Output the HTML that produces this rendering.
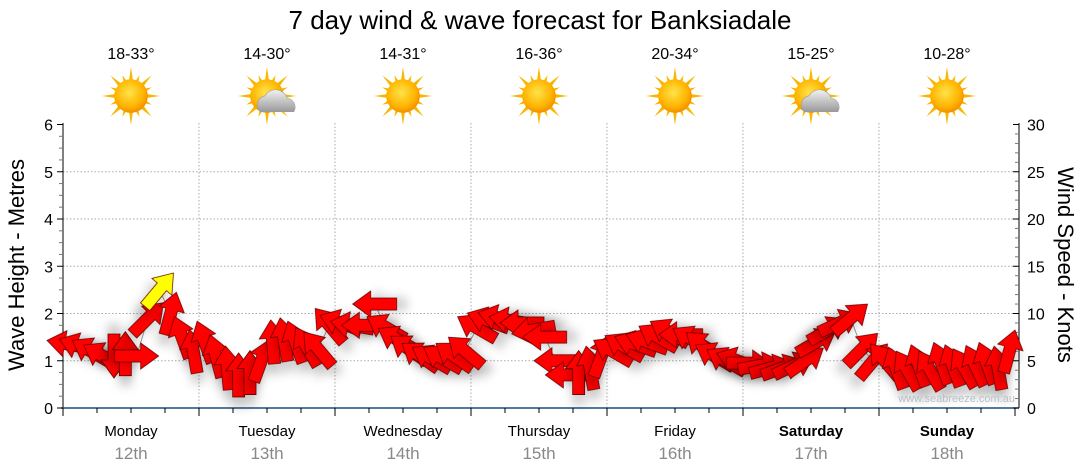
<!DOCTYPE html>
<html><head><meta charset="utf-8"><style>
html,body{margin:0;padding:0;background:#fff;}
svg{display:block;font-family:"Liberation Sans",sans-serif;}
</style></head><body>
<svg id="c" width="1080" height="475" viewBox="0 0 1080 475">
<defs>
<filter id="sh" x="-50%" y="-50%" width="200%" height="250%"><feDropShadow dx="0" dy="10" stdDeviation="5" flood-color="#000" flood-opacity="0.2"/></filter>
<radialGradient id="sun" cx="45%" cy="40%" r="60%"><stop offset="0" stop-color="#ffe34a"/><stop offset="0.7" stop-color="#ffb400"/><stop offset="1" stop-color="#f09000"/></radialGradient>
<linearGradient id="cloud" x1="0" y1="0" x2="0" y2="1"><stop offset="0" stop-color="#f2f2f2"/><stop offset="1" stop-color="#9a9a9a"/></linearGradient>
</defs>
<text x="540" y="29" text-anchor="middle" font-size="26" fill="#000">7 day wind &amp; wave forecast for Banksiadale</text>
<g id="topg"></g>
<g id="grid"></g>
<g id="axes"></g>
<g id="marks"></g>
<text x="1015" y="402" text-anchor="end" font-size="11" fill="#b8c0c8">www.seabreeze.com.au</text>
<text transform="translate(24,265) rotate(-90)" text-anchor="middle" font-size="22">Wave Height - Metres</text>
<text transform="translate(1058,265) rotate(90)" text-anchor="middle" font-size="22">Wind Speed - Knots</text>
</svg>
<script>
const days=["Monday","Tuesday","Wednesday","Thursday","Friday","Saturday","Sunday"];
const dates=["12th","13th","14th","15th","16th","17th","18th"];
const temps=["18-33°","14-30°","14-31°","16-36°","20-34°","15-25°","10-28°"];
const cloudy=[false,true,false,false,false,true,false];
const leftTicks=[0,1,2,3,4,5,6];
const rightTicks=[0,5,10,15,20,25,30];
const waveHeight=[
1.35,1.3,1.2,1.1,1.1,1.15,1.1,1.9,2.5,2.0,1.5,1.2,
1.4,1.1,0.85,0.7,0.75,1.0,1.4,1.45,1.4,1.3,1.25,1.75,
1.8,1.75,1.75,2.2,1.7,1.45,1.25,1.1,1.05,1.05,1.1,1.2,
1.7,1.85,1.9,1.85,1.8,1.65,1.5,1.0,0.7,0.75,0.85,1.1,
1.2,1.3,1.35,1.4,1.5,1.6,1.55,1.45,1.3,1.1,1.0,1.0,
0.95,0.9,0.85,0.85,0.9,1.0,1.4,1.65,1.8,1.9,1.25,1.0,
1.0,0.85,0.8,0.9,0.8,0.95,0.9,0.85,0.9,0.95,0.85,1.2];
const windDir=[
-80,-70,-60,-60,180,0,90,45,40,15,-20,-10,
-20,-15,-5,0,0,20,-5,-10,-20,-30,-40,-40,
-70,-80,-90,-90,-60,-60,-55,-55,-60,-60,-55,-50,
-60,-70,-75,-80,-90,-100,-90,-90,-90,0,-10,20,
-60,-60,-70,-70,-60,-60,-90,-60,-50,-60,-60,-70,
90,80,75,70,65,55,60,60,65,50,45,40,
-40,-20,-30,-20,-30,-20,-20,-30,-25,-20,-10,15];
const windSpeed=[
7,7,6,6,6,7,7,11,14,11,9,8,
8,7,6,6,6,7,8,8,8,8,8,9,
9,9,9,10,9,8,7,7,7,7,7,7,
9,9,10,10,9,9,8,7,6,6,6,7,
7,7,7,8,8,9,8,8,7,7,7,7,
6,6,6,6,6,7,8,9,10,10,8,7,
6,6,5,6,5,6,6,6,6,6,6,7];
const X0=63,X1=1019,Y0=408,Y6=124.5,DAYW=136,PER=12;
const yL=v=>Y0-(Y0-Y6)*v/6;
const yR=v=>Y0-(Y0-Y6)*v/30;
const xT=i=>X0+(i+0.5)*DAYW/PER;
const NS="http://www.w3.org/2000/svg";
function mk(t,a,p){const e=document.createElementNS(NS,t);for(const k in a)e.setAttribute(k,a[k]);p.appendChild(e);return e;}
const topG=document.getElementById('topg'),grid=document.getElementById('grid'),axes=document.getElementById('axes'),marks=document.getElementById('marks');
days.forEach((d,i)=>{
 const cx=X0+(i+0.5)*DAYW;
 const t=mk('text',{x:cx,y:59,'text-anchor':'middle','font-size':16},topG);t.textContent=temps[i];
 
 
 const g=mk('g',{transform:`translate(${cx},96) scale(1.12)`},topG);
 
 
 for(let k=0;k<16;k++){const a=k*Math.PI/8,L=k%2?20:26;mk('polygon',{points:`${Math.cos(a)*L},${Math.sin(a)*L} ${Math.cos(a+0.2)*11},${Math.sin(a+0.2)*11} ${Math.cos(a-0.2)*11},${Math.sin(a-0.2)*11}`,fill:'#f5b800'},g);}
 mk('circle',{cx:0,cy:0,r:15,fill:'url(#sun)'},g);
 if(cloudy[i]){mk('path',{d:'M-6,14 a8,8 0 0 1 4,-14 a11,11 0 0 1 20,2 a8,8 0 0 1 6,12 z',fill:'url(#cloud)',stroke:'#999','stroke-width':0.5},g);}
 const dl=mk('text',{x:cx,y:436,'text-anchor':'middle','font-size':15,'font-weight':i>=5?'bold':'normal'},axes);dl.textContent=d;
 
 
 const dt=mk('text',{x:cx,y:459,'text-anchor':'middle','font-size':17,fill:'#888'},axes);dt.textContent=dates[i];
 
 
});
leftTicks.forEach(v=>{if(v>0&&v<6){const l=mk('line',{x1:X0,x2:X1,y1:yL(v),y2:yL(v),stroke:'#aaa','stroke-dasharray':'1.5,2'},grid);
 
 }});
for(let i=1;i<7;i++){const x=X0+i*DAYW;const l=mk('line',{x1:x,x2:x,y1:123,y2:Y0,stroke:'#aaa','stroke-dasharray':'1.5,2'},grid);
 
 }
mk('line',{x1:X0,x2:X0,y1:123,y2:Y0,stroke:'#000'},axes);
mk('line',{x1:X1,x2:X1,y1:123,y2:Y0,stroke:'#000'},axes);
const xa=mk('line',{x1:X0-2,x2:X1,y1:Y0,y2:Y0,stroke:'#1a4f7a','stroke-width':1.5},axes);


for(let k=0;k<=24;k++){const v=k*0.25;mk('line',{x1:X0-(k%4?4:6),x2:X0,y1:yL(v),y2:yL(v),stroke:k%4?'#777':'#000'},axes);}
leftTicks.forEach(v=>{const t=mk('text',{x:X0-10,y:yL(v)+6,'text-anchor':'end','font-size':16},axes);t.textContent=v;
 
 });
for(let k=0;k<=30;k++){mk('line',{x1:X1-(k%5?4:6),x2:X1,y1:yR(k),y2:yR(k),stroke:k%5?'#777':'#000'},axes);}
rightTicks.forEach(v=>{const t=mk('text',{x:X1+8,y:yR(v)+6,'font-size':16},axes);t.textContent=v;
 
 });
for(let k=0;k<=28;k++){const x=X0+k*DAYW/4;mk('line',{x1:x,x2:x,y1:Y0,y2:Y0+(k%4?5:8),stroke:'#000'},axes);}
const pts=waveHeight.map((h,i)=>xT(i)+','+yL(h)).join(' ');
const pl=mk('polyline',{points:pts,fill:'none',stroke:'#999','stroke-width':1},marks);


const ARW='M-6,22 L6,22 L6,-4 L13,-4 L0,-22 L-13,-4 L-6,-4 Z';
waveHeight.forEach((h,i)=>{
 const p=mk('path',{d:ARW,transform:`translate(${xT(i)},${yL(h)}) rotate(${windDir[i]})`,fill:windSpeed[i]>=13?'#ffff00':'#ff0000',stroke:'#600','stroke-width':0.8,filter:'url(#sh)'},marks);
 
 
});
</script>
</body></html>
